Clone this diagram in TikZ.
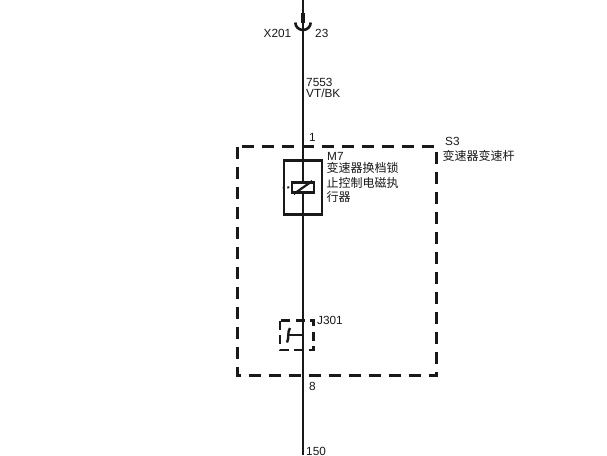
\documentclass[tikz,border=0pt]{standalone}
\usepackage{fontspec}
\setmainfont{Liberation Sans}
\newfontfamily\cjk{Noto Sans CJK SC}
\AtBeginDocument{\lineskiplimit=-20pt\relax}
\begin{document}
\begin{tikzpicture}[x=1pt,y=-1pt,
  wire/.style={line width=2.9pt,black!90},
  lbl/.style={inner sep=0pt,anchor=west,font=\fontsize{11.8}{11.8}\selectfont,text=black!90},
  cjklbl/.style={inner sep=0pt,anchor=west,font=\cjk\fontsize{12}{14.5}\selectfont,text=black!90,align=left},
  dashbox/.style={line width=2.5pt,dash pattern=on 12pt off 8pt,black!90},
  smalldash/.style={line width=2.6pt,dash pattern=on 9pt off 5.5pt,black!90}]
\useasboundingbox (0,0) rectangle (607,455);
\fill[white] (0,0) rectangle (607,455);
% module outline
\draw[dashbox] (237.5,146.5) rectangle (436.5,375.5);
% solenoid box
\node[draw,line width=2.5pt,black!90,minimum width=38pt,minimum height=54pt,inner sep=0pt] (m7) at (303,187.3) {};
% switch box
\coordinate (jnw) at (280,320.5);
\coordinate (jse) at (313.5,350);
\draw[smalldash] (jnw) rectangle (jse);
% wire
\coordinate (top) at (303,0);
\coordinate (bottom) at (303,455);
\coordinate (plug) at (303,23);
\draw[wire] (top) -- (bottom);
\draw[line width=4.6pt,black!90] (top |- 0,13) -- (plug);
\draw[line width=2.6pt,black!90] (295.3,22.5) arc[start angle=180,end angle=0,x radius=7.7pt,y radius=-7.5pt];
% coil
\node[draw,line width=2.6pt,black!90,fill=white,minimum width=22pt,minimum height=10.5pt,inner sep=0pt] (coil) at (303,187.5) {};
\draw[line width=2.2pt,black!90] ([xshift=3pt]coil.south west) -- ([xshift=-3pt]coil.north east);
\draw[line width=2pt,black!90,dash pattern=on 2pt off 2.5pt] (m7.west) -- (coil.west);
% switch symbol
\coordinate (swend) at (288,335);
\draw[line width=2.4pt,black!90] (303,335) -- (swend);
\draw[line width=2.4pt,black!90] (290,328) .. controls (287,332) and (289.5,338) .. (287,342.5);
% labels
\node[lbl,anchor=east] (x201) at (291.5,33.5) {X201};
\node[lbl] (p23) at (315,33.5) {23};
\node[lbl] (w1) at (306,82.5) {7553};
\node[lbl] (w2) at (306,93.5) {VT/BK};
\node[lbl] (p1) at (309,137) {1};
\node[lbl] (s3) at (445,141.5) {S3};
\node[cjklbl] (s3n) at (442.5,155.5) {变速器变速杆};
\node[lbl] (m7l) at (327,156.5) {M7};
\node[cjklbl,anchor=north west] (m7n) at (326.5,162.3) {变速器换档锁\\止控制电磁执\\行器};
\node[lbl] (j) at (317,320) {J301};
\node[lbl] (p8) at (309,386.5) {8};
\node[lbl] (p150) at (306,451) {150};
\end{tikzpicture}
\end{document}
